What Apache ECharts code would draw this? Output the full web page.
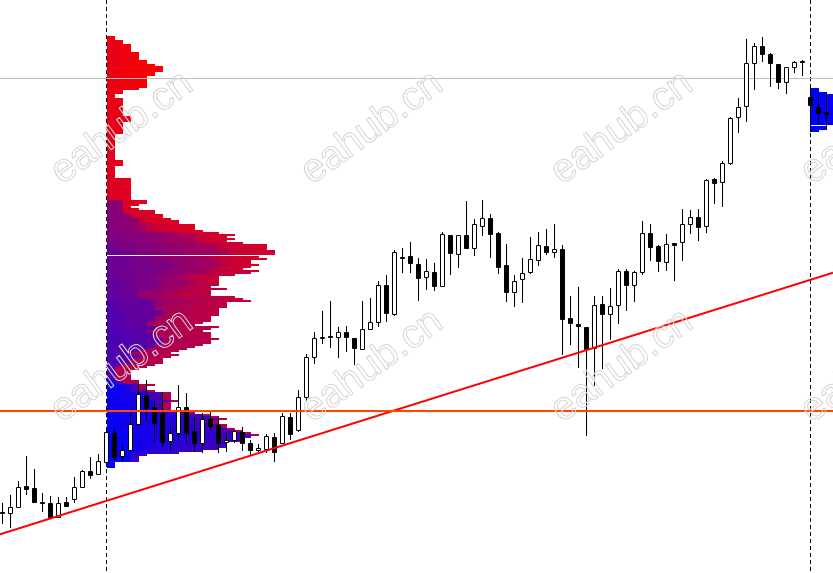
<!DOCTYPE html>
<html><head><meta charset="utf-8">
<script src="https://cdn.jsdelivr.net/npm/echarts@6/dist/echarts.min.js"></script>
<style>html,body{margin:0;padding:0;background:#fff;overflow:hidden}#c{width:833px;height:573px}</style>
</head><body><div id="c"></div>
<script>
// ---------- DATA ----------
const open = [2043.9, 2043.4, 2046.7, 2057.0, 2055.9, 2048.9, 2048.4, 2041.7, 2049.0, 2050.4,
 2056.4, 2064.7, 2062.9, 2068.9, 2083.4, 2072.0, 2075.0, 2088.0, 2102.5, 2096.4,
 2093.4, 2079.5, 2083.4, 2096.4, 2084.5, 2078.7, 2090.4, 2087.5, 2079.2, 2080.0,
 2084.2, 2078.7, 2075.0, 2075.4, 2081.4, 2078.7, 2091.4, 2085.0, 2101.7, 2121.4,
 2130.9, 2132.0, 2131.7, 2133.9, 2130.9, 2125.4, 2135.4, 2139.2, 2157.5, 2142.9,
 2171.4, 2172.0, 2168.0, 2161.4, 2164.0, 2157.2, 2182.5, 2172.9, 2182.5, 2175.9,
 2187.2, 2190.9, 2183.4, 2167.5, 2154.2, 2160.4, 2163.9, 2170.0, 2177.0, 2173.9,
 2175.5, 2140.9, 2137.9, 2136.4, 2125.9, 2148.0, 2143.0, 2147.5, 2164.5, 2157.5,
 2163.9, 2183.4, 2177.0, 2169.2, 2178.4, 2178.9, 2187.9, 2191.7, 2187.2, 2210.5,
 2208.9, 2218.7, 2241.4, 2247.0, 2268.4, 2277.0, 2272.9, 2267.9, 2258.9, 2266.4,
 2269.7, 2251.5, 2246.5, 2244.2];
const close = [2043.5, 2046.4, 2056.4, 2055.4, 2049.2, 2048.4, 2041.7, 2048.7, 2047.0, 2056.4,
 2064.7, 2062.5, 2069.4, 2084.0, 2071.7, 2074.9, 2087.9, 2103.0, 2095.9, 2088.4,
 2079.2, 2083.4, 2096.4, 2083.4, 2078.7, 2090.4, 2087.0, 2078.4, 2080.0, 2084.5,
 2078.4, 2075.0, 2075.9, 2082.0, 2074.2, 2092.0, 2083.0, 2101.4, 2121.4, 2130.9,
 2131.7, 2131.4, 2133.9, 2131.4, 2125.9, 2135.4, 2139.2, 2157.5, 2143.4, 2174.0,
 2170.9, 2168.4, 2160.9, 2164.5, 2157.2, 2182.9, 2173.4, 2182.5, 2176.2, 2187.9,
 2190.9, 2182.9, 2166.7, 2154.2, 2159.7, 2163.4, 2170.4, 2177.5, 2173.9, 2175.4,
 2140.4, 2138.4, 2137.2, 2125.4, 2147.5, 2143.0, 2147.0, 2164.5, 2157.5, 2163.9,
 2183.4, 2176.7, 2169.7, 2177.9, 2177.5, 2187.9, 2191.7, 2186.7, 2210.0, 2208.7,
 2218.4, 2241.2, 2246.7, 2268.4, 2277.0, 2273.0, 2268.4, 2259.2, 2266.4, 2269.2,
 2269.2, 2247.5, 2243.4, 2243.0];
const low = [2038.0, 2036.0, 2045.9, 2052.5, 2048.4, 2044.2, 2040.9, 2041.5, 2046.9, 2048.7,
 2055.9, 2060.4, 2062.5, 2066.4, 2069.5, 2069.5, 2074.5, 2087.5, 2090.0, 2079.2,
 2076.4, 2074.7, 2081.0, 2078.7, 2074.2, 2073.4, 2085.0, 2073.4, 2074.2, 2078.4,
 2074.7, 2072.0, 2073.4, 2073.4, 2069.2, 2078.0, 2080.0, 2084.0, 2099.2, 2118.0,
 2127.9, 2125.9, 2120.9, 2124.2, 2117.5, 2125.3, 2135.0, 2136.4, 2139.2, 2142.0,
 2163.5, 2163.5, 2149.7, 2155.0, 2154.7, 2156.7, 2162.5, 2166.2, 2176.0, 2172.2,
 2182.2, 2171.2, 2163.0, 2149.2, 2146.4, 2148.7, 2163.0, 2167.2, 2172.5, 2170.9,
 2122.5, 2127.5, 2115.9, 2082.0, 2107.0, 2115.4, 2130.0, 2137.9, 2144.7, 2149.2,
 2162.5, 2169.7, 2164.0, 2164.7, 2159.7, 2169.7, 2183.0, 2179.7, 2183.7, 2197.9,
 2196.7, 2217.5, 2233.4, 2239.2, 2255.0, 2269.2, 2256.4, 2255.4, 2253.0, 2263.7,
 2262.2, 2234.0, 2237.5, 2235.0];
const high = [2048.7, 2052.5, 2059.7, 2072.0, 2065.4, 2053.7, 2052.0, 2051.7, 2051.7, 2061.7,
 2064.8, 2071.4, 2073.0, 2084.5, 2086.5, 2078.0, 2093.5, 2108.0, 2110.0, 2100.4,
 2103.7, 2087.5, 2107.5, 2103.7, 2091.4, 2093.4, 2095.0, 2091.7, 2084.2, 2084.6,
 2086.4, 2080.0, 2078.0, 2083.0, 2083.7, 2093.7, 2093.4, 2105.0, 2123.0, 2134.2,
 2144.5, 2149.5, 2136.7, 2137.0, 2131.0, 2149.5, 2150.9, 2159.5, 2162.5, 2175.0,
 2176.0, 2178.9, 2170.9, 2170.5, 2168.4, 2183.9, 2182.6, 2182.6, 2199.5, 2190.5,
 2200.0, 2193.0, 2184.2, 2178.0, 2162.5, 2170.9, 2181.4, 2183.9, 2185.4, 2188.0,
 2177.5, 2152.0, 2156.4, 2136.5, 2152.0, 2152.0, 2155.9, 2165.4, 2165.4, 2164.5,
 2189.5, 2188.0, 2177.5, 2182.9, 2178.7, 2195.5, 2195.0, 2195.4, 2210.5, 2210.9,
 2219.5, 2241.7, 2250.9, 2280.4, 2278.4, 2281.7, 2273.7, 2268.0, 2266.5, 2269.3,
 2269.8, 2256.0, 2253.0, 2254.0];

const sessionStarts = [13, 101];
const sessionEnds = [100, 103];
const sessionLength = 88;
const profileStep = 1.0;

const levelPrices = [2260.75, 2094.5];
const trendIdx = [0, 100];
const trendPrice = [2033.2, 2158.9];
const watermarkText = 'eahub.cn';

// ---------- LAYOUT / STYLE ----------
const X_MIN = -0.3125, X_MAX = 103.8125, Y_MIN = 2013.5, Y_MAX = 2300;
const levelStyles = [{color: '#bdbdbd', width: 1}, {color: '#ff4500', width: 2}];

// ---------- DERIVED SERIES DATA ----------
const candleData = open.map((o, i) => [i, o, close[i], low[i], high[i]]);

const profileData = [];
const pocData = [];
sessionStarts.forEach((s, si) => {
  const e = sessionEnds[si];
  let pmin = Infinity, pmax = -Infinity;
  for (let i = s; i <= e; i++) { pmin = Math.min(pmin, low[i]); pmax = Math.max(pmax, high[i]); }
  pmin = Math.floor(pmin); pmax = Math.ceil(pmax);
  let best = null;
  for (let p = pmin; p < pmax; p += profileStep) {
    const mid = p + profileStep / 2;
    let k = 0;
    for (let i = s; i <= e; i++) {
      if (low[i] <= mid && high[i] >= mid) {
        profileData.push([s + k, p, p + profileStep, (i - s) / (sessionLength - 1)]);
        k++;
      }
    }
    if (k > 0 && (!best || k > best[3])) best = [s, p, p + profileStep, k];
  }
  if (best) pocData.push(best);
});

const slope = (trendPrice[1] - trendPrice[0]) / (trendIdx[1] - trendIdx[0]);
const trendData = [X_MIN, X_MAX].map(x => [x, trendPrice[0] + slope * (x - trendIdx[0])]);

function snap(v) { return Math.floor(v) + 0.5; }
function tpoColor(t) {
  const r = Math.round(255 * t), b = Math.round(255 * (1 - t));
  return 'rgb(' + r + ',0,' + b + ')';
}

const watermarks = [];
[128, 366].forEach(cy => [122, 372, 622, 872].forEach(cx => {
  watermarks.push({
    type: 'text', x: cx, y: cy, rotation: 36 * Math.PI / 180, z: 100, silent: true,
    style: { text: watermarkText, font: '40px "Liberation Sans", Arial, sans-serif',
      textAlign: 'center', textVerticalAlign: 'middle',
      fill: 'rgba(255,255,255,0)', stroke: '#d6d6d6', lineWidth: 1 }
  });
}));

const chart = echarts.init(document.getElementById('c'), null, {renderer: 'canvas'});
chart.setOption({
  animation: false,
  backgroundColor: '#ffffff',
  grid: {left: 0, right: 0, top: 0, bottom: 0},
  xAxis: {type: 'value', min: X_MIN, max: X_MAX, show: false, splitLine: {show: false}},
  yAxis: {type: 'value', min: Y_MIN, max: Y_MAX, show: false, splitLine: {show: false}, scale: true},
  graphic: {elements: watermarks},
  series: [
    { // session separators
      type: 'custom', z: 1, silent: true,
      data: sessionStarts.map(s => [s]),
      encode: {x: 0},
      renderItem: function (params, api) {
        const x = snap(api.coord([api.value(0), Y_MAX])[0]);
        return {type: 'line', shape: {x1: x, y1: 0, x2: x, y2: 573},
          style: {stroke: '#000', lineWidth: 1, lineDash: [4, 3]}};
      }
    },
    { // TPO profile
      type: 'custom', z: 2, silent: true, clip: false,
      data: profileData,
      encode: {x: 0, y: 1},
      renderItem: function (params, api) {
        const x0 = api.value(0), pLo = api.value(1), pHi = api.value(2), t = api.value(3);
        const a = api.coord([x0, pHi]), b = api.coord([x0 + 1, pLo]);
        const xa = Math.round(a[0]), xb = Math.round(b[0]);
        const ya = Math.round(a[1]), yb = Math.round(b[1]);
        return {type: 'rect', shape: {x: xa, y: ya, width: xb - xa, height: yb - ya},
          style: {fill: tpoColor(t)}};
      }
    },
    { // POC lines
      type: 'custom', z: 3, silent: true, clip: false,
      data: pocData,
      encode: {x: 0, y: 1},
      renderItem: function (params, api) {
        const s = api.value(0), mid = (api.value(1) + api.value(2)) / 2, n = api.value(3);
        const a = api.coord([s, mid]), b = api.coord([s + n, mid]);
        const y = snap(a[1]);
        return {type: 'line', shape: {x1: Math.round(a[0]), y1: y, x2: Math.round(b[0]) + 2, y2: y},
          style: {stroke: '#ffffff', lineWidth: 1}};
      }
    },
    { // gray level (under candles)
      type: 'custom', z: 4, silent: true,
      data: [[X_MIN, levelPrices[0], 0]],
      encode: {x: 0, y: 1},
      renderItem: function (params, api) {
        const st = levelStyles[api.value(2)];
        const y = api.coord([X_MIN, api.value(1)])[1];
        const yy = st.width % 2 ? snap(y) : Math.round(y);
        return {type: 'line', shape: {x1: 0, y1: yy, x2: 833, y2: yy},
          style: {stroke: st.color, lineWidth: st.width}};
      }
    },
    { // candles
      type: 'custom', z: 5, silent: true,
      data: candleData,
      encode: {x: 0, y: [1, 2, 3, 4]},
      renderItem: function (params, api) {
        const i = api.value(0), o = api.value(1), c = api.value(2), l = api.value(3), h = api.value(4);
        const px = snap(api.coord([i, o])[0]);
        const yo = Math.round(api.coord([i, o])[1]), yc = Math.round(api.coord([i, c])[1]);
        const yl = Math.round(api.coord([i, l])[1]), yh = Math.round(api.coord([i, h])[1]);
        let top = Math.min(yo, yc), bot = Math.max(yo, yc);
        if (bot - top < 1) bot = top + 1;
        const bull = c >= o;
        return {type: 'group', children: [
          {type: 'line', shape: {x1: px, y1: yh, x2: px, y2: yl}, style: {stroke: '#000', lineWidth: 1}},
          {type: 'rect', shape: {x: px - 2, y: top + 0.5, width: 4, height: bot - top},
            style: {fill: bull ? '#ffffff' : '#000000', stroke: '#000', lineWidth: 1}}
        ]};
      }
    },
    { // trend line
      type: 'line', z: 6, silent: true, data: trendData, symbol: 'none',
      lineStyle: {color: '#ff0000', width: 2}
    },
    { // orange level (over candles)
      type: 'custom', z: 7, silent: true,
      data: [[X_MIN, levelPrices[1], 1]],
      encode: {x: 0, y: 1},
      renderItem: function (params, api) {
        const st = levelStyles[api.value(2)];
        const y = api.coord([X_MIN, api.value(1)])[1];
        const yy = st.width % 2 ? snap(y) : Math.round(y);
        return {type: 'line', shape: {x1: 0, y1: yy, x2: 833, y2: yy},
          style: {stroke: st.color, lineWidth: st.width}};
      }
    }
  ]
});
</script>
</body></html>
